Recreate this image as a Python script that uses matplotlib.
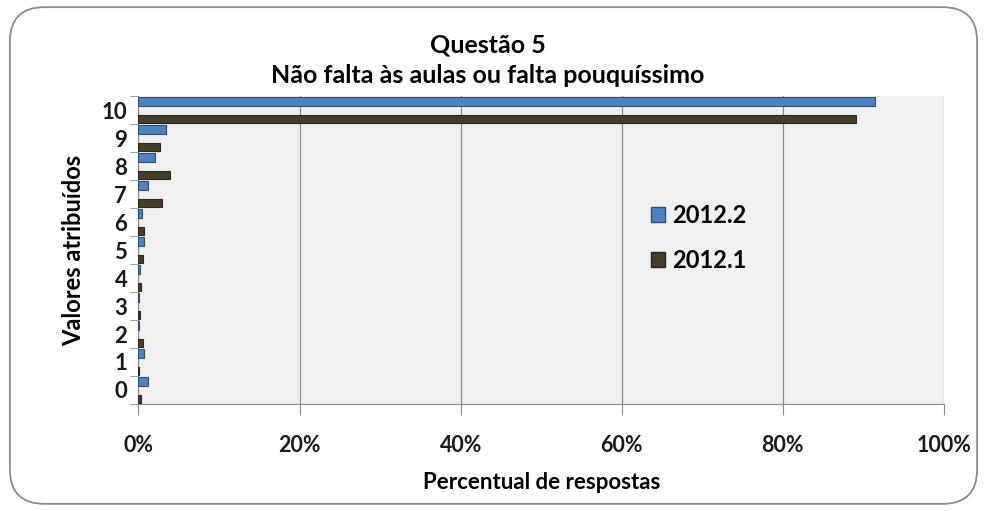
import matplotlib.pyplot as plt
import numpy as np
from matplotlib.patches import FancyBboxPatch, Patch
from matplotlib.ticker import FixedLocator, PercentFormatter

plt.rcParams['font.family'] = ['Lato', 'DejaVu Sans']

# ── Data ─────────────────────────────────────────────────────────────────────
categorias = [0, 1, 2, 3, 4, 5, 6, 7, 8, 9, 10]
serie_2012_2 = [1.2, 0.7, 0.1, 0.1, 0.2, 0.7, 0.4, 1.2, 2.1, 3.4, 91.4]
serie_2012_1 = [0.3, 0.1, 0.6, 0.2, 0.3, 0.6, 0.7, 2.9, 3.9, 2.7, 89.1]
rotulos = ['2012.2', '2012.1']
cor_azul = '#4f81bd'
cor_escura = '#443f2b'

# ── Figure ───────────────────────────────────────────────────────────────────
fig = plt.figure(figsize=(9.87, 5.11), dpi=100)
borda = FancyBboxPatch((0.010, 0.014), 0.980, 0.972,
                       boxstyle='round,pad=0,rounding_size=0.035',
                       transform=fig.transFigure, facecolor='white',
                       edgecolor='#8c8c8c', linewidth=1.3, mutation_aspect=1.93,
                       zorder=-5)
fig.patches.append(borda)

ax = fig.add_axes([0.1403, 0.2094, 0.8161, 0.6027])
ax.set_facecolor('#f0f0f0')

y = np.arange(len(categorias))
h = 0.30
ax.barh(y + 0.31, serie_2012_2, height=h, color=cor_azul,
        edgecolor='#2f4f75', linewidth=0.8, label=rotulos[0], zorder=3)
ax.barh(y - 0.33, serie_2012_1, height=h, color=cor_escura,
        edgecolor='#2a2719', linewidth=0.8, label=rotulos[1], zorder=3)

ax.set_xlim(0, 100)
ax.set_ylim(-0.5, len(categorias) - 0.5)
ax.xaxis.set_major_locator(FixedLocator([0, 20, 40, 60, 80, 100]))
ax.xaxis.set_major_formatter(PercentFormatter(decimals=0))
ax.grid(axis='x', color='#8a8a8a', linewidth=0.9, zorder=1)

# categories: centred labels (major, no tick) and boundary ticks (minor)
ax.set_yticks(y)
ax.set_yticklabels([str(c) for c in categorias], fontweight='bold',
                   fontsize=16, color='#1a1a1a')
ax.yaxis.set_minor_locator(FixedLocator(np.arange(-0.5, len(categorias), 1)))
ax.tick_params(axis='y', which='major', length=0, pad=8)
ax.tick_params(axis='y', which='minor', length=6, color='#8a8a8a', direction='out')
ax.tick_params(axis='x', length=8, color='#8a8a8a', pad=14, labelsize=15.5,
               labelcolor='#1a1a1a')
for lab in ax.get_xticklabels():
    lab.set_fontweight('bold')

for lado in ['top', 'right']:
    ax.spines[lado].set_visible(False)
ax.spines['left'].set_color('#8a8a8a')
ax.spines['bottom'].set_color('#8a8a8a')

ax.set_ylabel('Valores atribuídos', fontsize=17, fontweight='bold', labelpad=12)
ax.set_xlabel('Percentual de respostas', fontsize=16, fontweight='bold', labelpad=12)

fig.text(0.494, 0.912, 'Questão 5', ha='center', va='center', fontsize=18,
         fontweight='bold')
fig.text(0.494, 0.853, 'Não falta às aulas ou falta pouquíssimo', ha='center',
         va='center', fontsize=18, fontweight='bold')

leg = ax.legend(handles=[Patch(facecolor=cor_azul, edgecolor='#2f4f75'),
                         Patch(facecolor=cor_escura, edgecolor='#2a2719')],
                labels=rotulos, loc='upper left', bbox_to_anchor=(0.61, 0.72),
                frameon=False, handlelength=0.6, handleheight=0.6,
                handletextpad=0.3, labelspacing=0.95,
                prop={'weight': 'bold', 'size': 17})

fig.savefig('out.png', dpi=100)
